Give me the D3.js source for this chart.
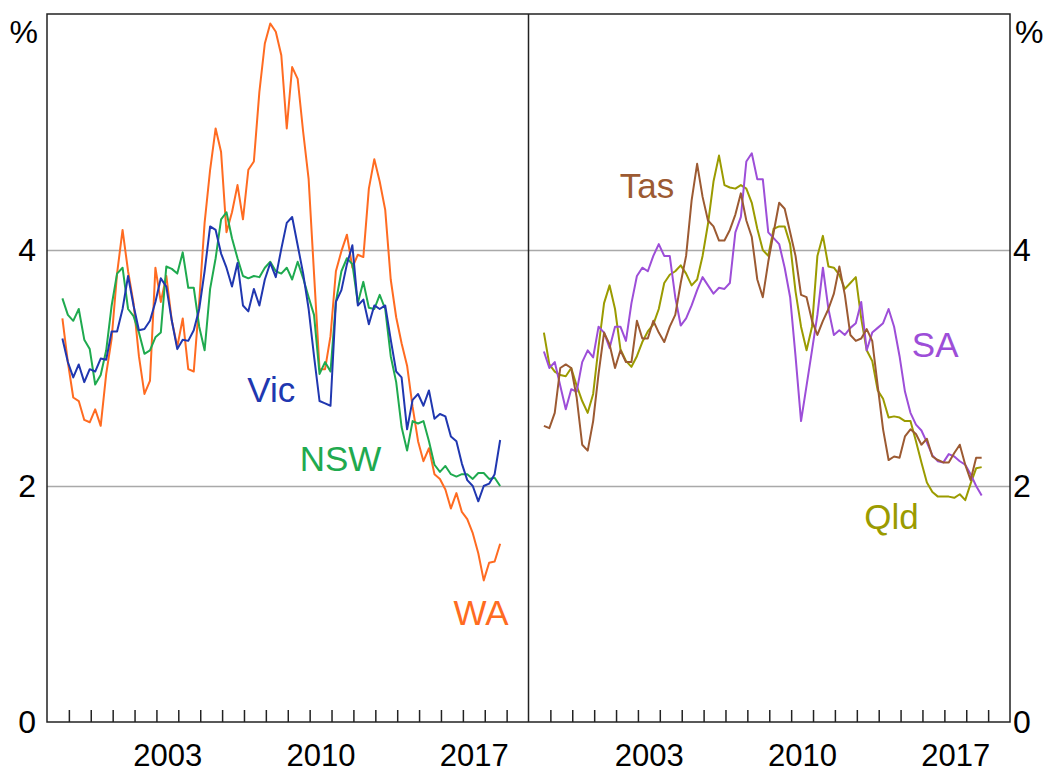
<!DOCTYPE html>
<html>
<head>
<meta charset="utf-8">
<script src="https://cdn.jsdelivr.net/npm/d3@7/dist/d3.min.js"></script>
<style>
  body { margin: 0; background: #fff; }
  svg text { font-family: "Liberation Sans", Arial, sans-serif; }
</style>
</head>
<body>
<svg id="chart" width="1046" height="774"></svg>
<script>
// Year-ended growth, quarterly from Sep 1998 to Sep 2018 (81 points)
const nswValues = [3.59, 3.45, 3.40, 3.50, 3.24, 3.16, 2.86, 2.94, 3.15, 3.53,
    3.80, 3.85, 3.50, 3.44, 3.30, 3.12, 3.15, 3.26, 3.30, 3.86,
    3.84, 3.80, 3.98, 3.68, 3.68, 3.35, 3.15, 3.67, 3.93, 4.26,
    4.32, 4.10, 3.93, 3.78, 3.76, 3.78, 3.77, 3.85, 3.90, 3.82,
    3.80, 3.85, 3.75, 3.90, 3.76, 3.60, 3.45, 2.95, 3.05, 2.97,
    3.56, 3.82, 3.93, 3.88, 3.55, 3.73, 3.51, 3.50, 3.62, 3.50,
    3.10, 2.88, 2.50, 2.30, 2.55, 2.53, 2.55, 2.38, 2.18, 2.12,
    2.17, 2.10, 2.08, 2.10, 2.10, 2.06, 2.11, 2.11, 2.06, 2.07, 2.00];

const vicValues = [3.25, 3.05, 2.92, 3.03, 2.88, 2.99, 2.97, 3.08, 3.07, 3.31,
    3.31, 3.50, 3.78, 3.53, 3.32, 3.33, 3.40, 3.56, 3.76, 3.69,
    3.40, 3.16, 3.24, 3.23, 3.32, 3.50, 3.82, 4.20, 4.17, 3.97,
    3.85, 3.69, 3.89, 3.53, 3.48, 3.67, 3.53, 3.75, 3.89, 3.77,
    4.01, 4.23, 4.28, 4.04, 3.80, 3.50, 3.10, 2.72, 2.70, 2.68,
    3.56, 3.66, 3.88, 4.04, 3.53, 3.58, 3.37, 3.53, 3.50, 3.53,
    3.24, 2.97, 2.92, 2.48, 2.73, 2.78, 2.68, 2.81, 2.57, 2.61,
    2.59, 2.42, 2.38, 2.19, 2.05, 2.00, 1.87, 2.00, 2.02, 2.10, 2.39];

const waValues = [3.42, 3.05, 2.75, 2.72, 2.56, 2.54, 2.65, 2.51, 2.95, 3.25,
    3.80, 4.17, 3.82, 3.55, 3.10, 2.78, 2.89, 3.85, 3.56, 3.78,
    3.40, 3.18, 3.42, 2.99, 2.97, 3.56, 4.23, 4.68, 5.03, 4.83,
    4.15, 4.32, 4.55, 4.26, 4.68, 4.75, 5.34, 5.75, 5.92, 5.85,
    5.65, 5.03, 5.55, 5.45, 5.00, 4.60, 3.80, 2.99, 2.99, 3.27,
    3.82, 3.99, 4.13, 3.85, 3.96, 3.94, 4.52, 4.77, 4.58, 4.34,
    3.75, 3.43, 3.21, 3.02, 2.67, 2.38, 2.21, 2.32, 2.10, 2.06,
    1.97, 1.81, 1.94, 1.78, 1.72, 1.60, 1.43, 1.20, 1.35, 1.36, 1.51];

const qldValues = [3.30, 3.03, 2.97, 2.94, 2.93, 3.00, 2.85, 2.72, 2.62, 2.78,
    3.18, 3.55, 3.70, 3.50, 3.16, 3.06, 3.01, 3.10, 3.22, 3.31,
    3.37, 3.50, 3.72, 3.79, 3.82, 3.87, 3.80, 3.70, 3.75, 3.95,
    4.22, 4.58, 4.80, 4.55, 4.53, 4.52, 4.55, 4.52, 4.40, 4.18,
    4.00, 3.95, 4.18, 4.20, 4.20, 4.05, 3.65, 3.35, 3.15, 3.35,
    3.95, 4.12, 3.86, 3.85, 3.79, 3.67, 3.72, 3.77, 3.42, 3.15,
    3.06, 2.81, 2.74, 2.58, 2.59, 2.58, 2.55, 2.55, 2.38, 2.20,
    2.03, 1.95, 1.91, 1.91, 1.91, 1.90, 1.93, 1.88, 2.02, 2.15, 2.16];

const tasValues = [2.51, 2.49, 2.62, 3.00, 3.03, 3.00, 2.75, 2.35, 2.30, 2.55,
    2.95, 3.30, 3.20, 3.00, 3.15, 3.05, 3.05, 3.40, 3.25, 3.25,
    3.40, 3.30, 3.22, 3.35, 3.45, 3.72, 3.95, 4.42, 4.73, 4.45,
    4.25, 4.20, 4.08, 4.08, 4.17, 4.30, 4.48, 4.25, 4.11, 3.75,
    3.60, 3.90, 4.15, 4.40, 4.35, 4.15, 3.95, 3.62, 3.60, 3.40,
    3.28, 3.40, 3.50, 3.63, 3.86, 3.62, 3.28, 3.23, 3.25, 3.33,
    3.23, 2.85, 2.48, 2.22, 2.25, 2.24, 2.42, 2.48, 2.44, 2.35,
    2.40, 2.25, 2.22, 2.20, 2.20, 2.28, 2.35, 2.18, 2.05, 2.24, 2.24];

const saValues = [3.14, 3.00, 3.05, 2.85, 2.65, 2.82, 2.80, 3.05, 3.15, 3.09,
    3.35, 3.30, 3.17, 3.35, 3.35, 3.23, 3.55, 3.78, 3.85, 3.82,
    3.95, 4.05, 3.95, 3.95, 3.60, 3.36, 3.42, 3.53, 3.66, 3.77,
    3.70, 3.63, 3.68, 3.67, 3.72, 4.15, 4.28, 4.75, 4.82, 4.60,
    4.60, 4.15, 4.10, 4.05, 3.85, 3.60, 3.10, 2.55, 2.85, 3.15,
    3.45, 3.85, 3.50, 3.28, 3.32, 3.28, 3.34, 3.38, 3.56, 3.15,
    3.30, 3.34, 3.38, 3.50, 3.35, 3.10, 2.80, 2.62, 2.52, 2.47,
    2.37, 2.26, 2.21, 2.20, 2.27, 2.25, 2.21, 2.18, 2.10, 2.00, 1.92];

const quarterDates = d3.range(nswValues.length).map(function(i) {
    return d3.timeMonth.offset(new Date(1998, 8, 15), 3 * i);
});

const yTickValues = [0, 2, 4];
const yGridValues = [2, 4];
const yearLabels = [2003, 2010, 2017];

const leftSeries = [
    { name: "WA", values: waValues, color: "#ff6b21", label: [new Date(2017, 10, 1), 0.93] },
    { name: "NSW", values: nswValues, color: "#1faa4f", label: [new Date(2011, 5, 1), 2.23] },
    { name: "Vic", values: vicValues, color: "#2037b0", label: [new Date(2008, 3, 1), 2.82] }
];

const rightSeries = [
    { name: "Qld", values: qldValues, color: "#9b9b00", label: [new Date(2014, 7, 1), 1.74] },
    { name: "SA", values: saValues, color: "#9d4ed8", label: [new Date(2016, 7, 1), 3.20] },
    { name: "Tas", values: tasValues, color: "#9c5a32", label: [new Date(2003, 5, 1), 4.55] }
];

const config = {
    top: 14,
    bottom: 722,
    left: 47,
    middle: 528.5,
    right: 1010,
    tickFont: 32,
    yearFont: 31,
    labelFont: 35
};

const svg = d3.select("#chart");

const y = d3.scaleLinear()
    .domain([0, 6])
    .range([config.bottom, config.top]);

const panels = [
    { x0: config.left, x1: config.middle, series: leftSeries },
    { x0: config.middle, x1: config.right, series: rightSeries }
];

function styleTickText(size) {
    return function(g) {
        g.select(".domain").remove();
        g.selectAll("text")
            .attr("fill", "#000")
            .style("font-size", size + "px")
            .style("font-family", "'Liberation Sans', Arial, sans-serif");
    };
}

// gridlines across both panels
svg.append("g")
    .attr("transform", "translate(" + config.left + ",0)")
    .call(d3.axisLeft(y).tickValues(yGridValues).tickSize(-(config.right - config.left)).tickFormat(""))
    .call(function(g) {
        g.select(".domain").remove();
        g.selectAll("line").attr("stroke", "#a9a9a9").attr("stroke-width", 1.5);
    });

panels.forEach(function(panel) {
    const x = d3.scaleTime()
        .domain([new Date(1998, 0, 1), new Date(2020, 0, 1)])
        .range([panel.x0, panel.x1]);

    // year ticks pointing up from the bottom
    svg.append("g")
        .attr("transform", "translate(0," + config.bottom + ")")
        .call(d3.axisBottom(x)
            .tickValues(d3.timeYear.range(new Date(1999, 0, 1), new Date(2020, 0, 1)))
            .tickSize(-12)
            .tickFormat(""))
        .call(function(g) {
            g.select(".domain").remove();
            g.selectAll("line").attr("stroke", "#222").attr("stroke-width", 1.5);
        });

    // labels sit in the middle of their year
    svg.append("g")
        .attr("transform", "translate(0," + config.bottom + ")")
        .call(d3.axisBottom(x)
            .tickValues(yearLabels.map(function(yr) { return new Date(yr, 6, 1); }))
            .tickSize(0)
            .tickPadding(22)
            .tickFormat(d3.timeFormat("%Y")))
        .call(styleTickText(config.yearFont));

    const line = d3.line()
        .x(function(d) { return x(d.date); })
        .y(function(d) { return y(d.value); });

    panel.series.forEach(function(s) {
        const points = s.values.map(function(v, i) {
            return { date: quarterDates[i], value: v };
        });

        svg.append("path")
            .datum(points)
            .attr("fill", "none")
            .attr("stroke", s.color)
            .attr("stroke-width", 2)
            .attr("stroke-linejoin", "round")
            .attr("d", line);

        svg.append("text")
            .attr("x", x(s.label[0]))
            .attr("y", y(s.label[1]))
            .attr("text-anchor", "middle")
            .attr("dominant-baseline", "central")
            .attr("fill", s.color)
            .style("font-size", config.labelFont + "px")
            .text(s.name);
    });
});

// y tick labels on both sides
svg.append("g")
    .attr("transform", "translate(" + config.left + ",0)")
    .call(d3.axisLeft(y).tickValues(yTickValues).tickSize(0).tickPadding(11).tickFormat(d3.format("d")))
    .call(styleTickText(config.tickFont));

svg.append("g")
    .attr("transform", "translate(" + config.right + ",0)")
    .call(d3.axisRight(y).tickValues(yTickValues).tickSize(0).tickPadding(3).tickFormat(d3.format("d")))
    .call(styleTickText(config.tickFont));

svg.append("text")
    .attr("x", config.left - 9)
    .attr("y", 32)
    .attr("text-anchor", "end")
    .attr("dominant-baseline", "central")
    .style("font-size", config.tickFont + "px")
    .text("%");

svg.append("text")
    .attr("x", config.right + 5)
    .attr("y", 32)
    .attr("text-anchor", "start")
    .attr("dominant-baseline", "central")
    .style("font-size", config.tickFont + "px")
    .text("%");

// frame and panel divider
svg.append("rect")
    .attr("x", config.left)
    .attr("y", config.top)
    .attr("width", config.right - config.left)
    .attr("height", config.bottom - config.top)
    .attr("fill", "none")
    .attr("stroke", "#222")
    .attr("stroke-width", 1.5);

svg.append("line")
    .attr("x1", config.middle)
    .attr("x2", config.middle)
    .attr("y1", config.top)
    .attr("y2", config.bottom)
    .attr("stroke", "#222")
    .attr("stroke-width", 1.5);
</script>
</body>
</html>
